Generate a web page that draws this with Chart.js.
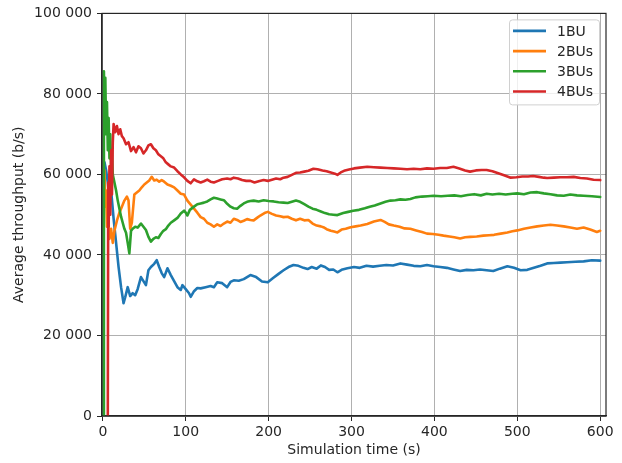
<!DOCTYPE html>
<html>
<head>
<meta charset="utf-8">
<script src="https://cdn.jsdelivr.net/npm/chart.js@4"></script>
<style>
    html, body { margin: 0; padding: 0; background: #fff; }
    canvas { display: block; }
</style>
</head>
<body>
<canvas id="throughputChart" width="622" height="463"></canvas>
<script>
// series labels + colours (matplotlib tab10)
const seriesNames = ['1BU', '2BUs', '3BUs', '4BUs'];
const seriesColors = ['#1f77b4', '#ff7f0e', '#2ca02c', '#d62728'];

// axis ticks
const xTicks = [0, 100, 200, 300, 400, 500, 600];
const yTicks = [0, 20000, 40000, 60000, 80000, 100000];

// 1BU: simulation time (s) / average throughput (b/s)
const bu1Time = [
    2, 4, 6, 8, 10, 13, 16, 19, 22, 25,
    27, 30, 33, 36, 39, 42, 46, 49, 52, 55,
    58, 62, 65, 68, 71, 74, 78, 82, 86, 90,
    94, 96, 100, 104, 106, 110, 114, 118, 124, 130,
    134, 138, 144, 150, 154, 158, 164, 170, 178, 185,
    192, 199, 205, 212, 218, 224, 230, 236, 242, 247,
    252, 258, 263, 268, 273, 278, 283, 288, 295, 303,
    310, 318, 326, 334, 342, 350, 359, 367, 375, 383,
    391, 399, 407, 415, 423, 431, 439, 447, 455, 463,
    471, 479, 488, 496, 504, 512, 520, 528, 536, 544,
    552, 560, 570, 580, 590, 600
];
const bu1Rate = [
    63000, 61000, 58000, 54000, 56000, 49000, 43000, 37000, 32000, 28000,
    29500, 32000, 29800, 30500, 30000, 31500, 34500, 33500, 32500, 36200,
    37000, 37800, 38700, 37000, 35500, 34500, 36700, 35000, 33500, 32000,
    31300, 32500, 31500, 30500, 29600, 31000, 31800, 31700, 32000, 32300,
    32000, 33200, 33000, 32000, 33300, 33700, 33600, 34000, 35000, 34500,
    33400, 33200, 34200, 35300, 36200, 37000, 37500, 37300, 36800, 36500,
    37000, 36600, 37400, 37000, 36300, 36400, 35700, 36300, 36700, 37000,
    36800, 37300, 37100, 37300, 37500, 37400, 37900, 37600, 37300, 37200,
    37500, 37200, 37000, 36800, 36400, 36000, 36300, 36200, 36400, 36200,
    36000, 36600, 37200, 36800, 36200, 36300, 36800, 37300, 37900, 38000,
    38100, 38200, 38300, 38400, 38700, 38600
];

// 2BUs
const bu2Time = [
    2, 3, 4, 5, 6, 8, 10, 12, 14, 17,
    20, 23, 26, 29, 31, 33, 35, 38, 41, 44,
    47, 50, 53, 56, 59, 62, 65, 68, 71, 74,
    78, 82, 86, 90, 94, 98, 102, 106, 110, 114,
    118, 122, 126, 130, 134, 138, 142, 146, 150, 154,
    158, 162, 166, 170, 174, 178, 182, 186, 190, 195,
    199, 204, 209, 214, 218, 223, 228, 233, 238, 243,
    248, 253, 258, 263, 266, 270, 275, 279, 283, 288,
    293, 299, 305, 311, 319, 327, 335, 340, 345, 351,
    358, 364, 371, 378, 385, 391, 398, 405, 411, 418,
    424, 431, 437, 443, 451, 459, 466, 472, 480, 488,
    494, 500, 508, 516, 524, 532, 540, 548, 556, 564,
    572, 580, 588, 596, 600
];
const bu2Rate = [
    61000, 52000, 56000, 47000, 50000, 44000, 46500, 43000, 46000, 48500,
    50500, 52000, 53500, 54500, 53500, 46500, 48000, 55000, 55500, 56000,
    56800, 57500, 58000, 58500, 59400, 58500, 58700, 58200, 58600, 58200,
    57500, 57200, 56800, 56000, 55200, 55000, 53500, 52500, 51500, 50500,
    49400, 49000, 48000, 47600, 47000, 47600, 47200, 47800, 48300, 48000,
    49000, 48700, 48200, 48500, 48900, 48700, 48600, 49200, 49800, 50400,
    50700, 50200, 49800, 49600, 49400, 49500, 49000, 48600, 49000, 48600,
    48700, 47800, 47300, 47100, 46900, 46400, 46000, 45800, 45600, 46300,
    46500, 46900, 47100, 47300, 47700, 48300, 48700, 48200, 47600, 47300,
    47000, 46600, 46500, 46100, 45700, 45300, 45200, 45000, 44800, 44600,
    44400, 44100, 44400, 44500, 44600, 44800, 44900, 45000, 45300, 45600,
    45900, 46100, 46500, 46800, 47100, 47300, 47500, 47300, 47100, 46800,
    46500, 46800, 46300, 45700, 46000
];

// 3BUs
const bu3Time = [
    1, 1.3, 2, 3, 4, 5, 6, 7, 8, 9,
    10, 11, 12, 14, 16, 18, 20, 22, 24, 26,
    28, 30, 32, 34, 36, 39, 42, 46, 49, 52,
    55, 58, 61, 64, 67, 70, 73, 76, 79, 82,
    86, 90, 94, 98, 100, 102, 105, 110, 114, 118,
    122, 126, 130, 134, 138, 142, 146, 150, 154, 158,
    162, 166, 170, 174, 178, 182, 188, 194, 200, 206,
    212, 218, 223, 228, 233, 238, 243, 248, 253, 258,
    263, 268, 273, 278, 283, 290, 296, 302, 309, 316,
    322, 328, 335, 341, 347, 353, 359, 365, 371, 377,
    385, 392, 399, 408, 416, 424, 432, 440, 448, 456,
    463, 470, 478, 486, 494, 500, 508, 516, 524, 532,
    540, 548, 556, 564, 572, 580, 590, 600
];
const bu3Rate = [
    0, 85600, 78000, 84000, 70000, 78000, 66000, 74000, 64000, 70000,
    62000, 66000, 60000, 58000, 56000, 53500, 51500, 49500, 48000, 46500,
    45500, 43000, 40400, 46000, 46500, 47000, 46800, 47800, 47000, 46200,
    44500, 43300, 44000, 44400, 44200, 45200, 46000, 46400, 47300, 48000,
    48600, 49200, 50300, 51000, 50500, 49800, 51200, 52000, 52600, 52800,
    53000, 53300, 53800, 54200, 54000, 53800, 53600, 52700, 52000, 51600,
    51500, 52200, 52800, 53200, 53400, 53500, 53300, 53600, 53400, 53300,
    53100, 53000, 52900, 53200, 53500, 53200, 52600, 52000, 51500, 51200,
    50800, 50400, 50100, 50000, 49900, 50400, 50700, 51000, 51200, 51600,
    52000, 52300, 52800, 53200, 53500, 53600, 53800, 53700, 53900, 54300,
    54500, 54600, 54700, 54600, 54700, 54800, 54600, 54900, 55100, 54800,
    55200, 55000, 55200, 55000, 55200, 55300, 55100, 55500, 55600, 55300,
    55100, 54800, 54700, 55000, 54800, 54700, 54600, 54400
];

// 4BUs
const bu4Time = [
    6, 6.5, 7, 8, 9, 10, 11, 12, 13, 15,
    17, 19, 21, 23, 25, 28, 31, 34, 37, 40,
    43, 46, 49, 52, 55, 58, 61, 64, 67, 70,
    73, 76, 79, 82, 86, 90, 94, 98, 102, 106,
    110, 114, 118, 122, 126, 130, 134, 139, 144, 150,
    154, 158, 163, 168, 173, 178, 183, 188, 194, 199,
    204, 209, 214, 218, 223, 228, 233, 238, 243, 248,
    254, 259, 265, 270, 275, 280, 283, 287, 291, 297,
    303, 310, 319, 327, 335, 343, 351, 359, 367, 375,
    383, 391, 399, 407, 415, 423, 430, 437, 443, 450,
    457, 463, 470, 477, 484, 492, 499, 506, 513, 519,
    526, 532, 536, 544, 552, 560, 568, 576, 584, 592,
    600
];
const bu4Rate = [
    0, 58000, 47000, 62000, 50000, 66000, 55000, 68000, 72500, 70500,
    72000, 70000, 71200, 69500, 69000, 67500, 68000, 65800, 66800, 65500,
    67000, 66500, 65200, 66000, 67200, 67500, 66500, 66000, 65000, 64500,
    64000, 63000, 62500, 62000, 61700, 60800, 60000, 59300, 58400, 57800,
    58800, 58300, 58000, 58300, 58700, 58200, 58000, 58400, 58800, 59000,
    58800, 59200, 59000, 58600, 58400, 58400, 58000, 58300, 58600, 58400,
    58700, 59000, 58800, 59200, 59400, 59900, 60400, 60500, 60700, 60900,
    61400, 61300, 61000, 60800, 60500, 60200, 59900, 60500, 60900, 61200,
    61500, 61700, 61900, 61800, 61700, 61600, 61500, 61400, 61300, 61400,
    61300, 61500, 61400, 61600, 61600, 61900, 61500, 61000, 60700, 61000,
    61100, 61100, 60800, 60300, 59800, 59200, 59300, 59500, 59500, 59600,
    59400, 59200, 59100, 59200, 59300, 59300, 59400, 59100, 59000, 58700,
    58600
];

const FONT = { family: "'DejaVu Sans', sans-serif", size: 14 };
const INK = '#262626';
const LINE_W = 2.6;

function toPoints(times, rates) {
    return times.map((t, i) => ({ x: t, y: rates[i] }));
}

function formatThousands(v) {
    return String(v).replace(/\B(?=(\d{3})+(?!\d))/g, ' ');
}

// top/right spines, matplotlib style box
const frame = {
    id: 'frame',
    afterDatasetsDraw(chart) {
        const { ctx, chartArea: a } = chart;
        ctx.save();
        ctx.strokeStyle = INK;
        ctx.lineWidth = 1.2;
        ctx.strokeRect(a.left, a.top, a.right - a.left, a.bottom - a.top);
        ctx.restore();
    }
};

// legend box in the upper right corner
const cornerLegend = {
    id: 'cornerLegend',
    afterDraw(chart) {
        const { ctx, chartArea: a } = chart;
        const w = 90, h = 85;
        const x = a.right - 7 - w;
        const y = a.top + 6;
        ctx.save();
        ctx.fillStyle = 'rgba(255,255,255,0.8)';
        ctx.strokeStyle = '#d0d0d0';
        ctx.lineWidth = 1;
        ctx.beginPath();
        ctx.roundRect(x + 0.5, y + 0.5, w, h, 3);
        ctx.fill();
        ctx.stroke();

        ctx.font = `${FONT.size}px ${FONT.family}`;
        ctx.textBaseline = 'middle';
        chart.data.datasets.forEach((ds, i) => {
            const cy = y + 11.5 + i * 20.2;
            ctx.strokeStyle = ds.borderColor;
            ctx.lineWidth = LINE_W;
            ctx.beginPath();
            ctx.moveTo(x + 4, cy);
            ctx.lineTo(x + 37, cy);
            ctx.stroke();
            ctx.fillStyle = INK;
            ctx.fillText(ds.label, x + 48, cy + 1);
        });
        ctx.restore();
    }
};

const series = [
    toPoints(bu1Time, bu1Rate),
    toPoints(bu2Time, bu2Rate),
    toPoints(bu3Time, bu3Rate),
    toPoints(bu4Time, bu4Rate)
];

const ctx = document.getElementById('throughputChart').getContext('2d');
new Chart(ctx, {
    type: 'line',
    data: {
        datasets: series.map((pts, i) => ({
            label: seriesNames[i],
            data: pts,
            borderColor: seriesColors[i],
            backgroundColor: seriesColors[i],
            borderWidth: LINE_W,
            borderJoinStyle: 'round',
            borderCapStyle: 'round',
            pointRadius: 0,
            tension: 0,
            fill: false,
            order: 4 - i   // later series drawn on top, like matplotlib
        }))
    },
    options: {
        responsive: false,
        animation: false,
        layout: { padding: { top: 12, right: 16, left: 0, bottom: 0 } },
        plugins: {
            legend: { display: false },
            tooltip: { enabled: false }
        },
        scales: {
            x: {
                type: 'linear',
                min: -1,
                max: 607,
                afterBuildTicks: s => { s.ticks = xTicks.map(v => ({ value: v })); },
                afterFit: s => { s.height = 47; },
                grid: { color: '#b0b0b0', lineWidth: 1, tickLength: 5, tickColor: INK },
                border: { color: INK, width: 1.2 },
                ticks: { font: FONT, color: INK, padding: 3, maxRotation: 0 },
                title: {
                    display: true, text: 'Simulation time (s)',
                    font: FONT, color: INK, padding: { top: 0, bottom: 4 }
                }
            },
            y: {
                min: 0,
                max: 100000,
                afterBuildTicks: s => { s.ticks = yTicks.map(v => ({ value: v })); },
                afterFit: s => { s.width = 102; },
                grid: { color: '#b0b0b0', lineWidth: 1, tickLength: 5, tickColor: INK },
                border: { color: INK, width: 1.2 },
                ticks: { font: FONT, color: INK, padding: 5, callback: v => formatThousands(v) },
                title: {
                    display: true, text: 'Average throughput (b/s)',
                    font: FONT, color: INK, padding: { top: 11, bottom: 0 }
                }
            }
        }
    },
    plugins: [frame, cornerLegend]
});
</script>
</body>
</html>
